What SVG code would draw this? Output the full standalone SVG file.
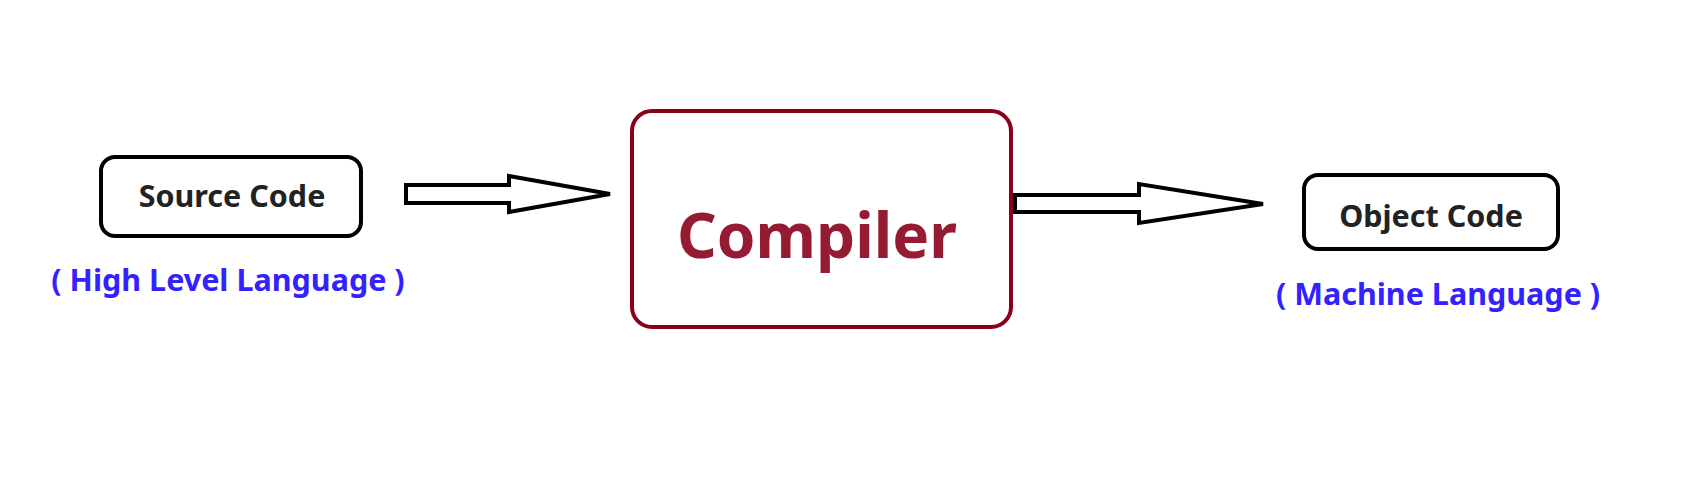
<svg xmlns="http://www.w3.org/2000/svg" width="1685" height="481" viewBox="0 0 1685 481">
<style>
.box{fill:#fff;stroke:#000;stroke-width:4}
.comp{fill:#fff;stroke:#8b0019;stroke-width:4}
.arrow{fill:#fff;stroke:#000;stroke-width:4;stroke-linejoin:miter}
.lbl{font-family:"Noto Sans","Open Sans",sans-serif;font-weight:700;font-size:30.5px;fill:#222;text-anchor:middle}
.sub{font-family:"Noto Sans","Open Sans",sans-serif;font-weight:700;font-size:30.5px;fill:#3322ff;text-anchor:middle}
.big{font-family:"Noto Sans","Open Sans",sans-serif;font-weight:700;font-size:62px;fill:#951b32;text-anchor:middle}
</style>
<rect width="1685" height="481" fill="#fff"/>
<g id="source">
<rect class="box" x="101" y="157" width="260" height="79" rx="14"/>
<text class="lbl" x="232" y="207">Source Code</text>
<text class="sub" x="228" y="291">( High Level Language )</text>
</g>
<g id="compiler">
<rect class="comp" x="632" y="111" width="379" height="216" rx="20"/>
<text class="big" x="817" y="258">Compiler</text>
</g>
<g id="object">
<rect class="box" x="1304" y="175" width="254" height="74" rx="14"/>
<text class="lbl" x="1431" y="227">Object Code</text>
<text class="sub" x="1438" y="305">( Machine Language )</text>
</g>
<g id="connectors">
<polygon class="arrow" points="406,185 509,185 509,176 610,194 509,212 509,203 406,203"/>
<polygon class="arrow" points="1015,195 1139,195 1139,184 1263,204 1139,223 1139,212 1015,212"/>
</g>
</svg>
